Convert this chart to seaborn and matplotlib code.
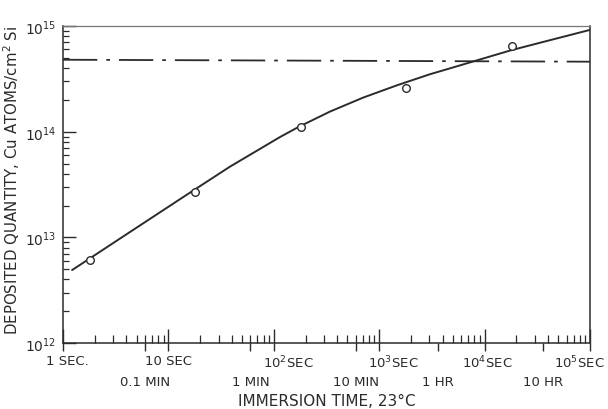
import numpy as np
import pandas as pd
import matplotlib
matplotlib.use("Agg")
import matplotlib.pyplot as plt
import matplotlib.transforms as mtransforms
import seaborn as sns
from matplotlib.ticker import FixedLocator, LogLocator, FixedFormatter

# Data
curve_sec = [1.22, 4.3, 12.9, 38.4, 114.5, 169, 341, 702, 1475, 3034, 4700, 17800, 41700, 100000]
curve_qty = [4.9e12, 1.12e13, 2.30e13, 4.67e13, 8.9e13, 1.10e14, 1.55e14, 2.10e14,
             2.75e14, 3.5e14, 3.98e14, 5.9e14, 7.35e14, 9.2e14]
point_sec = [1.8, 18, 180, 1800, 18000]
point_qty = [6.1e12, 2.68e13, 1.10e14, 2.58e14, 6.45e14]
limit_sec = [1, 100000]
limit_qty = [4.8e14, 4.6e14]

sec_ticks = [1, 10, 100, 1000, 10000, 100000]
sec_labels = ["1 SEC.", "10 SEC", r"$10^2$SEC", r"$10^3$SEC", r"$10^4$SEC", r"$10^5$SEC"]
min_ticks = [0.1, 1, 10, 60, 600]
min_labels = ["0.1 MIN", "1 MIN", "10 MIN", "1 HR", "10 HR"]
qty_ticks = [1e12, 1e13, 1e14, 1e15]
qty_labels = [r"$10^{12}$", r"$10^{13}$", r"$10^{14}$", r"$10^{15}$"]

ink = "#2b2b2b"

sns.set_style("ticks")
plt.rcParams["font.family"] = ["DejaVu Sans"]
plt.rcParams["mathtext.fontset"] = "dejavusans"

fig = plt.figure(figsize=(6.08, 4.10), dpi=100)
ax = fig.add_axes([0.1036, 0.161, 0.8668, 0.773])
ax.set(xscale="log", yscale="log")

# Curve, points and saturation line
sns.lineplot(x=curve_sec, y=curve_qty, ax=ax, color=ink, linewidth=1.4, sort=True)
sns.scatterplot(x=point_sec, y=point_qty, ax=ax, marker="o", s=30,
                facecolor="white", edgecolor=ink, linewidth=1.0, zorder=3)
sns.lineplot(x=limit_sec, y=limit_qty, ax=ax, color=ink, linewidth=1.3,
             linestyle=(0, (19, 5, 2, 5)))

ax.set_xlim(1, 1e5)
ax.set_ylim(1e12, 1e15)

# Seconds axis
ax.xaxis.set_major_locator(FixedLocator(sec_ticks))
ax.xaxis.set_major_formatter(FixedFormatter(sec_labels))
ax.xaxis.set_minor_locator(LogLocator(base=10, subs=np.arange(2, 10)))
ax.tick_params(axis="x", which="major", direction="in", length=10, width=1,
               color=ink, labelcolor=ink, labelsize=9.5, pad=8)
ax.tick_params(axis="x", which="minor", direction="in", length=6, width=0.9, color=ink)

# Minutes axis below
sec_ax = ax.secondary_xaxis(0, functions=(lambda s: s / 60.0, lambda m: m * 60.0))
sec_ax.xaxis.set_major_locator(FixedLocator(min_ticks))
sec_ax.xaxis.set_major_formatter(FixedFormatter(min_labels))
sec_ax.xaxis.set_minor_locator(FixedLocator([s / 60.0 for s in sec_ticks]))
sec_ax.tick_params(axis="x", which="both", direction="out", length=6, width=1,
                   color=ink, labelcolor=ink, labelsize=9.5, pad=17)
sec_ax.spines["bottom"].set_visible(False)

# Quantity axis
ax.yaxis.set_major_locator(FixedLocator(qty_ticks))
ax.yaxis.set_major_formatter(FixedFormatter(qty_labels))
ax.yaxis.set_minor_locator(LogLocator(base=10, subs=np.arange(2, 10)))
ax.tick_params(axis="y", which="major", direction="in", length=9, width=1,
               color=ink, labelcolor=ink, labelsize=10, pad=5)
ax.tick_params(axis="y", which="minor", direction="in", length=4, width=0.9, color=ink)

for side in ["left", "right", "top", "bottom"]:
    ax.spines[side].set_visible(True)
    ax.spines[side].set_color(ink)
    ax.spines[side].set_linewidth(1.1)
ax.spines["top"].set_color("#777777")
ax.spines["top"].set_linewidth(0.9)

ax.set_xlabel("IMMERSION TIME, 23°C", fontsize=11, color=ink)
ax.xaxis.set_label_coords(0.5, -0.158)
ax.set_ylabel("DEPOSITED QUANTITY, Cu ATOMS/cm$^2$ Si", fontsize=10.8, color=ink)
ax.yaxis.set_label_coords(-0.078, 0.517)

# nudge the seconds labels sideways as in the original lettering
fig.canvas.draw()
shifts_px = [4, 0, 14, 14, 3, -11]
for label, dx in zip(ax.xaxis.get_majorticklabels(), shifts_px):
    offset = mtransforms.ScaledTranslation(dx / 100.0, 0, fig.dpi_scale_trans)
    label.set_transform(label.get_transform() + offset)

fig.savefig("out.png", dpi=100, facecolor="white")
